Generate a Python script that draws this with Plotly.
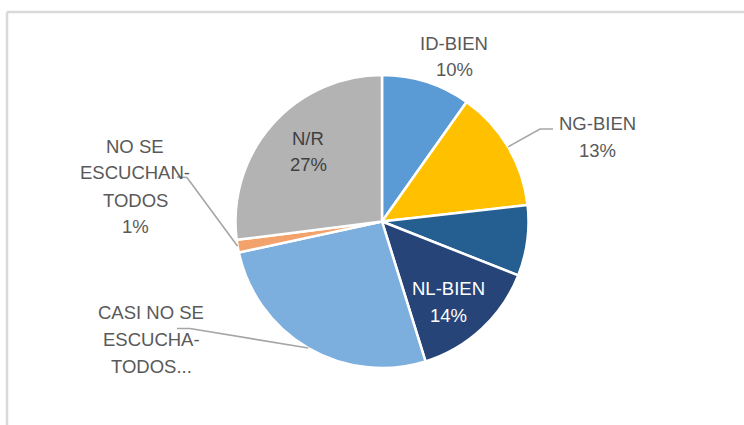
import math
import plotly.graph_objects as go

# ---- data ----
categories = ["ID-BIEN", "NG-BIEN", "NG-REGULAR", "NL-BIEN",
              "CASI NO SE ESCUCHA-TODOS", "NO SE ESCUCHAN-TODOS", "N/R"]
values = [9.8, 13.4, 7.8, 14.2, 26.4, 1.4, 27.0]
pct_labels = ["10%", "13%", "", "14%", "", "1%", "27%"]
colors = ["#5b9bd5", "#ffc000", "#255e91", "#264478",
          "#7cafdd", "#f4a26c", "#b3b3b3"]

# ---- layout constants (pixels) ----
W, H = 744, 425
CX, CY, R = 382.0, 221.5, 146.5
FONT = "Liberation Sans"
FS = 18.5
LINE_H = 27
OUT_COL = "#595959"

def px(x):
    return x / W

def py(y):
    return 1 - y / H

fig = go.Figure(go.Pie(
    labels=categories, values=values, sort=False, direction="clockwise",
    rotation=0, textinfo="none", hoverinfo="label+percent",
    marker=dict(colors=colors, line=dict(color="white", width=2.5)),
    domain=dict(x=[px(CX - R), px(CX + R)], y=[py(CY + R), py(CY - R)]),
    showlegend=False,
))

# slice mid angles from the data
total = sum(values)
mids = []
acc = 0.0
for v in values:
    mids.append((acc + v / 2) / total * 360.0)
    acc += v

def edge(i, k=1.0):
    a = math.radians(mids[i])
    return CX + R * k * math.sin(a), CY - R * k * math.cos(a)

# label blocks: (index, lines, center x, first line y, colour)
labels = [
    (0, ["ID-BIEN", pct_labels[0]], 454, 43, OUT_COL),
    (1, ["NG-BIEN", pct_labels[1]], 597, 123, OUT_COL),
    (3, ["NL-BIEN", pct_labels[3]], 448, 288, "#ffffff"),
    (4, ["CASI NO SE", "ESCUCHA-", "TODOS..."], 151, 312, OUT_COL),
    (5, ["NO SE", "ESCUCHAN-", "TODOS", pct_labels[5]], 135, 146, OUT_COL),
    (6, ["N/R", pct_labels[6]], 308, 138, "#404040"),
]
annotations = []
for i, lines, x, y0, col in labels:
    for j, t in enumerate(lines):
        annotations.append(dict(
            x=px(x), y=py(y0 + j * LINE_H), xref="paper", yref="paper",
            text=t, showarrow=False, xanchor="center", yanchor="middle",
            font=dict(family=FONT, size=FS, color=col),
        ))

# leader lines: from slice edge to label anchor
leaders = [
    (1, [(540, 129), (553, 129)]),
    (5, [(187, 177.5), (177, 177)]),
    (4, [(190, 328.5), (177, 328.5)]),
]
shapes = []
for i, pts in leaders:
    ex, ey = edge(i)
    allp = [(ex, ey)] + pts
    path = "M " + " L ".join(f"{px(a)},{py(b)}" for a, b in allp)
    shapes.append(dict(type="path", path=path, xref="paper", yref="paper",
                       line=dict(color="#a6a6a6", width=1.6)))

# chart border (top and left visible)
shapes.append(dict(type="line", xref="paper", yref="paper",
                   x0=px(7), y0=py(12), x1=px(W + 5), y1=py(12),
                   line=dict(color="#d9d9d9", width=2.5)))
shapes.append(dict(type="line", xref="paper", yref="paper",
                   x0=px(7), y0=py(12), x1=px(7), y1=py(H + 5),
                   line=dict(color="#d9d9d9", width=2.5)))

fig.update_layout(
    width=W, height=H, margin=dict(l=0, r=0, t=0, b=0),
    paper_bgcolor="white", plot_bgcolor="white",
    annotations=annotations, shapes=shapes,
)

fig.write_html(
    "out.html",
    config={"displayModeBar": False},
    post_script="document.body.style.margin='0';document.body.style.overflow='hidden';",
)
